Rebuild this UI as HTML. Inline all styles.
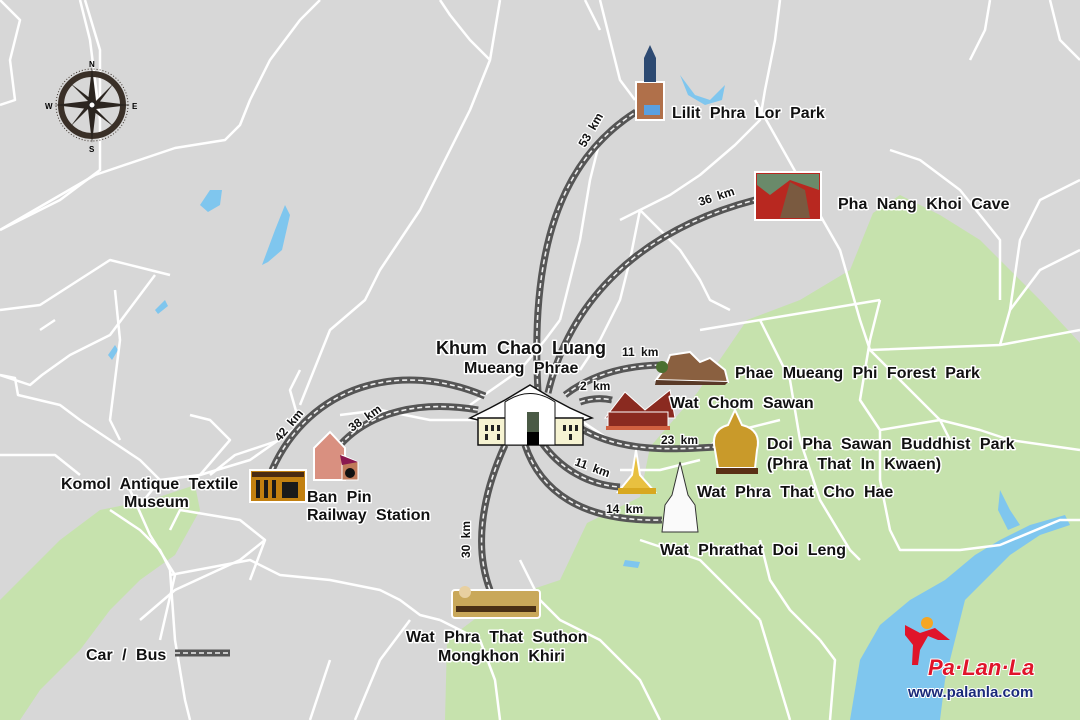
<!DOCTYPE html>
<html><head><meta charset="utf-8"><style>
html,body{margin:0;padding:0;background:#d7d7d7}
svg{display:block}
.l{font-family:"Liberation Sans",sans-serif;font-weight:bold;font-size:16px;fill:#111;stroke:#fff;stroke-width:3px;paint-order:stroke;stroke-linejoin:round;word-spacing:5px}
.k{font-family:"Liberation Sans",sans-serif;font-weight:bold;font-size:12px;fill:#111;stroke:#fff;stroke-width:2.5px;paint-order:stroke;word-spacing:3px}
.rd{fill:none;stroke:#fff;stroke-width:2.5;stroke-linejoin:round}
.r1{fill:none;stroke:#555;stroke-width:7}
.r2{fill:none;stroke:#eee;stroke-width:1.6;stroke-dasharray:5 3}
</style></head><body>
<svg width="1080" height="720" viewBox="0 0 1080 720" xmlns="http://www.w3.org/2000/svg">
<defs>
<path id="p1" fill="none" d="M538,392 C530,250 560,160 636,112"/>
<path id="p2" fill="none" d="M548,393 C570,300 640,230 755,200"/>
<path id="p3" fill="none" d="M565,395 C595,372 630,365 665,365"/>
<path id="p4" fill="none" d="M580,402 C592,398 603,398 612,400"/>
<path id="p5" fill="none" d="M580,428 C620,452 670,450 715,447"/>
<path id="p6" fill="none" d="M540,440 C560,470 590,485 620,487"/>
<path id="p7" fill="none" d="M525,445 C540,490 580,522 662,520"/>
<path id="p8" fill="none" d="M505,445 C480,500 475,550 490,590"/>
<path id="p9" fill="none" d="M478,410 C420,400 370,412 340,445"/>
<path id="p10" fill="none" d="M485,396 C400,360 310,385 272,470"/>
</defs>
<rect width="1080" height="720" fill="#d7d7d7"/>
<!-- green -->
<path d="M747,320 L800,300 L850,270 L873,213 L900,195 L940,215 L980,240 L1040,300 L1080,343 L1080,720 L445,720 L447,640 L500,600 L560,580 L587,523 L640,497 L650,447 L697,393 Z" fill="#c6e2ad"/>
<path d="M0,600 L60,540 L100,510 L150,500 L195,485 L200,510 L175,555 L140,580 L110,610 L80,650 L40,690 L20,720 L0,720 Z" fill="#c6e2ad"/>
<!-- lake -->
<path d="M850,720 L860,660 L880,625 L910,600 L945,580 L975,555 L1000,540 L1030,525 L1065,515 L1070,525 L1040,535 L1010,555 L990,575 L965,600 L955,640 L945,680 L940,720 Z" fill="#7fc6ee"/>
<path d="M1000,490 L1010,510 L1020,525 L1008,530 L998,510 Z" fill="#7fc6ee"/>
<path d="M200,205 L210,190 L222,190 L220,205 L208,212 Z M262,265 L275,230 L285,205 L290,215 L282,250 L268,262 Z M155,310 L165,300 L168,306 L158,314 Z M108,355 L115,345 L118,350 L112,360 Z M680,75 L695,95 L710,100 L725,85 L722,100 L705,105 L688,95 Z M625,560 L640,562 L638,568 L623,566 Z" fill="#7fc6ee"/>
<!-- roads -->
<g class="rd">
<path d="M0,230 L60,200 L100,170 L100,120 L90,40 L80,0"/>
<path d="M0,105 L15,100 L10,60 L20,20 L0,0"/>
<path d="M0,230 L95,175 L175,148 L225,140 L240,125 L250,100 L270,60 L300,20 L320,0"/>
<path d="M0,310 L40,305 L110,260 L150,270 L170,275"/>
<path d="M0,375 L30,385 L42,375 L70,355 L110,335 L155,275"/>
<path d="M0,375 L15,378 L18,395 L60,405 L80,420 L110,440 L140,460 L160,480 L140,505"/>
<path d="M115,290 L120,340 L110,420 L120,440"/>
<path d="M40,330 L55,320"/>
<path d="M85,0 L100,50 L100,100"/>
<path d="M160,480 L200,475 L250,460 L300,425 L290,390 L300,370"/>
<path d="M300,405 L330,330 L365,300 L380,270 L420,210 L445,160 L470,110 L490,60 L500,0"/>
<path d="M440,0 L450,15 L470,40 L490,60"/>
<path d="M200,475 L230,440 L210,420 L190,415"/>
<path d="M110,510 L140,530 L160,550 L170,570 L175,640 L185,700 L190,720"/>
<path d="M140,620 L175,590 L240,560 L265,540 L240,520 L180,510 L170,530"/>
<path d="M130,490 L150,535 L175,575 L160,640"/>
<path d="M170,575 L250,560 L280,575 L330,580 L380,590 L400,600 L420,615 L440,620"/>
<path d="M265,540 L250,580"/>
<path d="M330,660 L320,690 L310,720"/>
<path d="M410,620 L380,660 L355,720"/>
<path d="M210,475 L235,455 L280,440"/>
<path d="M0,455 L55,455 L80,475"/>
<path d="M340,415 L380,410 L430,420 L480,420"/>
<path d="M600,0 L610,40 L620,80 L635,100"/>
<path d="M585,0 L600,30"/>
<path d="M620,120 L600,140 L590,180 L580,240 L570,280 L560,320"/>
<path d="M780,0 L775,40 L765,90 L760,120 L735,145 L700,175 L670,195 L640,210 L620,220"/>
<path d="M640,210 L680,250 L700,280 L710,300 L730,310"/>
<path d="M640,210 L630,260 L620,300 L600,340 L580,370"/>
<path d="M755,100 L800,180 L840,250 L860,320 L870,350 L900,380 L920,400 L940,420 L950,440"/>
<path d="M870,350 L1000,345 L1080,330"/>
<path d="M1000,345 L1010,310 L1040,270 L1080,250"/>
<path d="M1010,310 L1020,240 L1040,200 L1080,180"/>
<path d="M890,150 L920,160 L960,190 L1000,240 L1000,300"/>
<path d="M1050,0 L1060,40 L1080,60"/>
<path d="M990,0 L985,30 L970,60"/>
<path d="M700,330 L760,320 L820,310 L880,300"/>
<path d="M880,300 L870,340 L860,400 L880,430 L880,480 L890,530 L900,550 L960,550 L1000,545 L1060,520 L1080,520"/>
<path d="M760,320 L790,380 L800,440 L820,500 L850,550 L860,560"/>
<path d="M880,430 L940,420 L980,430 L1010,440 L1080,450"/>
<path d="M700,450 L740,430 L780,420"/>
<path d="M620,470 L660,470 L700,460"/>
<path d="M760,540 L770,580 L790,610 L820,640"/>
<path d="M820,640 L835,660 L830,720"/>
<path d="M640,540 L700,560 L740,600 L760,620"/>
<path d="M760,620 L790,720"/>
<path d="M520,560 L540,600 L560,620 L600,640 L640,680 L660,720"/>
<path d="M440,620 L480,640 L495,680 L500,720"/>
<path d="M580,420 L610,440 L640,450"/>
<path d="M470,405 L520,370 L545,340 L560,320"/>
</g>
<!-- routes -->
<g class="r1"><use href="#p1"/><use href="#p2"/><use href="#p3"/><use href="#p4"/><use href="#p5"/><use href="#p6"/><use href="#p7"/><use href="#p8"/><use href="#p9"/><use href="#p10"/><path d="M175,653 L230,653"/></g>
<g class="r2"><use href="#p1"/><use href="#p2"/><use href="#p3"/><use href="#p4"/><use href="#p5"/><use href="#p6"/><use href="#p7"/><use href="#p8"/><use href="#p9"/><use href="#p10"/><path d="M175,653 L230,653"/></g>
<!-- km labels -->
<text class="k" transform="translate(585,148) rotate(-60)">53 km</text>
<text class="k" transform="translate(700,206) rotate(-18)">36 km</text>
<text class="k" x="622" y="356">11 km</text>
<text class="k" x="580" y="390">2 km</text>
<text class="k" x="661" y="444">23 km</text>
<text class="k" transform="translate(574,465) rotate(20)">11 km</text>
<text class="k" x="606" y="513">14 km</text>
<text class="k" transform="translate(470,558) rotate(-90)">30 km</text>
<text class="k" transform="translate(352,432) rotate(-35)">38 km</text>
<text class="k" transform="translate(280,442) rotate(-50)">42 km</text>
<!-- compass -->
<g transform="translate(92,105)">
<circle r="31" fill="none" stroke="#3a3028" stroke-width="6"/>
<circle r="36" fill="none" stroke="#3a3028" stroke-width="1" stroke-dasharray="1 2"/>
<path d="M0,-38 L4,-4 L38,0 L4,4 L0,38 L-4,4 L-38,0 L-4,-4 Z" fill="#2b2520"/>
<path d="M-22,-22 L3,-3 L22,-22 L3,3 L22,22 L-3,3 L-22,22 L-3,-3 Z" fill="#2b2520"/>
<circle r="3" fill="#fff" stroke="#222"/>
<text x="-3" y="-38" font-size="8" font-family="Liberation Sans" font-weight="bold">N</text>
<text x="-3" y="47" font-size="8" font-family="Liberation Sans" font-weight="bold">S</text>
<text x="40" y="4" font-size="8" font-family="Liberation Sans" font-weight="bold">E</text>
<text x="-47" y="4" font-size="8" font-family="Liberation Sans" font-weight="bold">W</text>
</g>
<!-- center building -->
<g>
<path d="M470,418 L490,408 L505,400 L525,388 L530,385 L535,388 L555,400 L570,408 L592,418 L585,420 L478,420 Z" fill="#fff" stroke="#111" stroke-width="1.5"/>
<rect x="478" y="418" width="105" height="27" fill="#f6f3d2" stroke="#111" stroke-width="1.5"/>
<path d="M505,402 Q530,385 555,402 L555,445 L505,445 Z" fill="#fff" stroke="#111"/>
<rect x="527" y="412" width="12" height="33" fill="#4a5a45"/>
<rect x="527" y="432" width="12" height="13" fill="#000"/>
<g fill="#222"><rect x="485" y="425" width="3" height="6"/><rect x="491" y="425" width="3" height="6"/><rect x="497" y="425" width="3" height="6"/><rect x="563" y="425" width="3" height="6"/><rect x="569" y="425" width="3" height="6"/><rect x="575" y="425" width="3" height="6"/><rect x="485" y="434" width="3" height="6"/><rect x="497" y="434" width="3" height="6"/><rect x="569" y="434" width="3" height="6"/></g>
</g>
<!-- Lilit statue -->
<rect x="636" y="82" width="28" height="38" fill="#b0704a" stroke="#fff" stroke-width="2"/>
<path d="M644,82 L644,58 L650,45 L656,58 L656,82 Z" fill="#2d4a72"/>
<rect x="644" y="105" width="16" height="10" fill="#5aa0e0"/>
<!-- cave -->
<rect x="755" y="172" width="66" height="48" fill="#b82820" stroke="#fff" stroke-width="2"/>
<path d="M757,174 L819,174 L819,190 L790,180 L770,195 L757,185 Z" fill="#6a8a6a"/>
<path d="M780,218 L790,182 L805,190 L810,218 Z" fill="#7a5a40"/>
<!-- forest park -->
<path d="M656,380 L665,368 L670,355 L690,352 L700,362 L710,358 L725,370 L728,382 Z" fill="#8a6040" stroke="#fff" stroke-width="2"/>
<path d="M656,380 L728,382 L725,385 L655,385 Z" fill="#5a3a28"/>
<circle cx="662" cy="367" r="6" fill="#4a7030"/>
<!-- wat chom -->
<g fill="#8a2a20" stroke="#fff" stroke-width="1">
<path d="M605,418 L625,392 L645,410 L670,390 L675,418 Z"/>
<rect x="608" y="412" width="60" height="16"/>
</g>
<rect x="606" y="426" width="64" height="4" fill="#d06040"/>
<!-- doi pha sawan -->
<path d="M715,450 Q710,430 728,425 L735,410 L742,425 Q762,430 757,450 L755,468 L718,468 Z" fill="#c99a2a" stroke="#fff" stroke-width="2"/>
<rect x="716" y="468" width="42" height="6" fill="#5a3015"/>
<!-- cho hae -->
<path d="M618,492 L632,475 L636,450 L640,475 L655,492 Z" fill="#e8c040" stroke="#fff" stroke-width="2"/>
<rect x="618" y="488" width="38" height="6" fill="#d8a820"/>
<!-- doi leng -->
<path d="M662,532 L665,505 L672,495 L680,462 L688,495 L695,505 L698,532 Z" fill="#fafafa" stroke="#333" stroke-width="1"/>
<!-- suthon -->
<rect x="452" y="590" width="88" height="28" rx="3" fill="#c9a85a" stroke="#fff" stroke-width="2"/>
<rect x="456" y="606" width="80" height="6" fill="#4a3015"/>
<circle cx="465" cy="592" r="6" fill="#e8d0a0"/>
<!-- komol -->
<rect x="250" y="470" width="56" height="32" fill="#c28010" stroke="#fff" stroke-width="2"/>
<rect x="252" y="472" width="52" height="5" fill="#4a2a10"/>
<g fill="#1a1a1a"><rect x="256" y="480" width="4" height="18"/><rect x="264" y="480" width="4" height="18"/><rect x="272" y="480" width="4" height="18"/><rect x="282" y="482" width="16" height="16"/></g>
<!-- ban pin -->
<path d="M314,448 L330,432 L345,448 L345,480 L314,480 Z" fill="#d99080" stroke="#fff" stroke-width="2"/>
<path d="M342,455 L358,462 L358,480 L342,480 Z" fill="#c07a5a" stroke="#fff" stroke-width="1"/>
<path d="M340,455 L358,462 L342,465 Z" fill="#8a1850"/>
<circle cx="350" cy="473" r="5" fill="#111"/>
<!-- labels -->
<text class="l" x="436" y="354" style="font-size:18px">Khum Chao Luang</text>
<text class="l" x="464" y="373">Mueang Phrae</text>
<text class="l" x="672" y="118">Lilit Phra Lor Park</text>
<text class="l" x="838" y="209">Pha Nang Khoi Cave</text>
<text class="l" x="735" y="378">Phae Mueang Phi Forest Park</text>
<text class="l" x="670" y="408">Wat Chom Sawan</text>
<text class="l" x="767" y="449">Doi Pha Sawan Buddhist Park</text>
<text class="l" x="767" y="469">(Phra That In Kwaen)</text>
<text class="l" x="697" y="497">Wat Phra That Cho Hae</text>
<text class="l" x="660" y="555">Wat Phrathat Doi Leng</text>
<text class="l" x="406" y="642">Wat Phra That Suthon</text>
<text class="l" x="438" y="661">Mongkhon Khiri</text>
<text class="l" x="61" y="489">Komol Antique Textile</text>
<text class="l" x="124" y="507">Museum</text>
<text class="l" x="307" y="502">Ban Pin</text>
<text class="l" x="307" y="520">Railway Station</text>
<text class="l" x="86" y="660">Car / Bus</text>
<!-- logo -->
<circle cx="927" cy="623" r="6" fill="#f5a623"/>
<path d="M905,625 L920,633 L935,628 L950,640 L938,640 L928,636 L920,650 L918,665 L912,665 L913,645 L905,635 Z" fill="#e0142a"/>
<text x="928" y="675" font-family="Liberation Sans" font-weight="bold" font-style="italic" font-size="22" fill="#e0142a" stroke="#fff" stroke-width="2" paint-order="stroke">Pa·Lan·La</text>
<text x="908" y="697" font-family="Liberation Sans" font-weight="bold" font-size="15" fill="#1a2a7a" stroke="#fff" stroke-width="2" paint-order="stroke">www.palanla.com</text>
</svg>
</body></html>
